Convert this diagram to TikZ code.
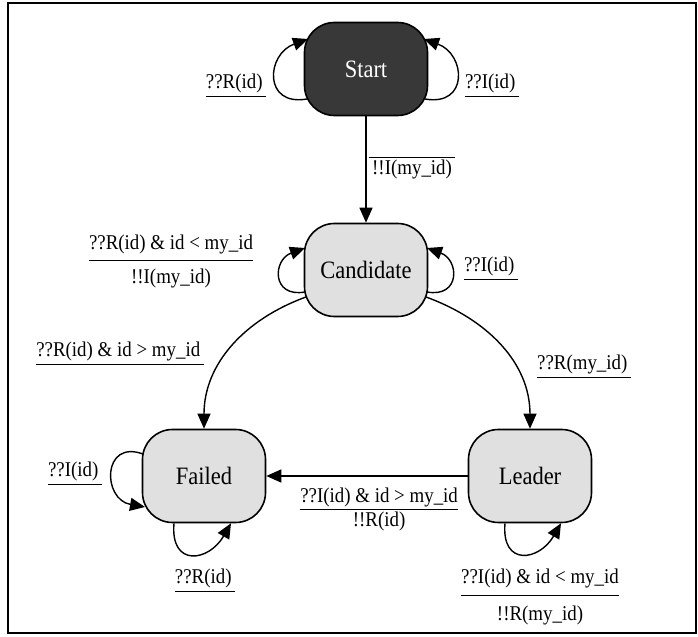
\documentclass[tikz,border=0pt]{standalone}
\usepackage{fontspec}
\setmainfont{Liberation Serif}[FakeStretch=0.9]
\usetikzlibrary{calc, positioning, arrows.meta}

\newcommand{\ulab}[1]{\begin{tabular}{@{}c@{\,}}#1\\\hline\end{tabular}}
\newcommand{\olab}[1]{\begin{tabular}{@{\,}l@{\,}}\hline #1\end{tabular}}
\newcommand{\flab}[3][1]{\renewcommand{\arraystretch}{#1}\begin{tabular}{@{}c@{}}#2\\\hline #3\end{tabular}}

\begin{document}
\begin{tikzpicture}[x=0.5pt, y=0.5pt, >={Triangle[length=7.5pt, width=6.5pt]},
        state/.style={draw, line width=0.8pt, rounded corners=15pt, minimum width=61.5pt, minimum height=46.5pt, fill=black!12, font=\fontsize{12.5}{15}\selectfont},
        lab/.style={inner sep=1pt, font=\fontsize{10.5}{12.5}\selectfont},
        trans/.style={->, line width=0.7pt}]
                \useasboundingbox (0,0) rectangle (698,637);
                \draw[line width=0.8pt] (8,4) rectangle (696,634);

                \node[state, fill=black!78, text=white] (S) at (366,568) {Start};
                \node[state] (C) at (366,367) {Candidate};
                \node[state] (F) at (204,161) {Failed};
                \node[state] (L) at (530,161) {Leader};

                \node[lab] (SR) at (236,553) {\ulab{??R(id)}};
                \node[lab] (SI) at (492,553) {\ulab{??I(id)}};
                \node[lab] (CR) at (171,377) {\flab[1.3]{??R(id) \& id < my\_id}{!!I(my\_id)}};
                \node[lab] (CI) at (491,370) {\ulab{??I(id)}};
                \node[lab] (CF) at (120,285) {\ulab{??R(id) \& id > my\_id}};
                \node[lab] (CL) at (584,272) {\ulab{??R(my\_id)}};
                \node[lab] (FI) at (75,165) {\ulab{??I(id)}};
                \node[lab] (FR) at (205,58) {\ulab{??R(id)}};
                \node[lab] (LL) at (540,42) {\flab[1.44]{??I(id) \& id < my\_id}{!!R(my\_id)}};

                \draw[trans] ($(S)+(-59,-30)$) to[out=190, in=200, looseness=1.9] ($(S)+(-58,30)$);
                \draw[trans] ($(S)+(59,-30)$) to[out=-10, in=-20, looseness=1.9] ($(S)+(58,30)$);
                \draw[trans] (S) -- node[lab, anchor=west] (SC) {\olab{!!I(my\_id)}} (C);

                \draw[trans] ($(C)+(-61,-22)$) to[out=190, in=200, looseness=2] ($(C)+(-61,22)$);
                \draw[trans] ($(C)+(61,-22)$) to[out=-10, in=-20, looseness=2] ($(C)+(61,22)$);
                \draw[trans] ($(C)+(-60,-27)$) to[out=200, in=90] (F);
                \draw[trans] ($(C)+(60,-27)$) to[out=-20, in=90] (L);

                \draw[trans] (L) -- node[lab, below=3.5pt, pos=0.44] (LF) {\flab[0.95]{??I(id) \& id > my\_id}{!!R(id)}} (F);

                \draw[trans] ($(F)+(-61,22)$) to[out=160, in=170, looseness=2.1] ($(F)+(-59,-31)$);
                \draw[trans] ($(F.south)+(-30,0)$) to[out=265, in=240, looseness=2] ($(F.south)+(27,0)$);
                \draw[trans] ($(L.south)+(-25,0)$) to[out=265, in=240, looseness=2] ($(L.south)+(31,0)$);
            \end{tikzpicture}
\end{document}
